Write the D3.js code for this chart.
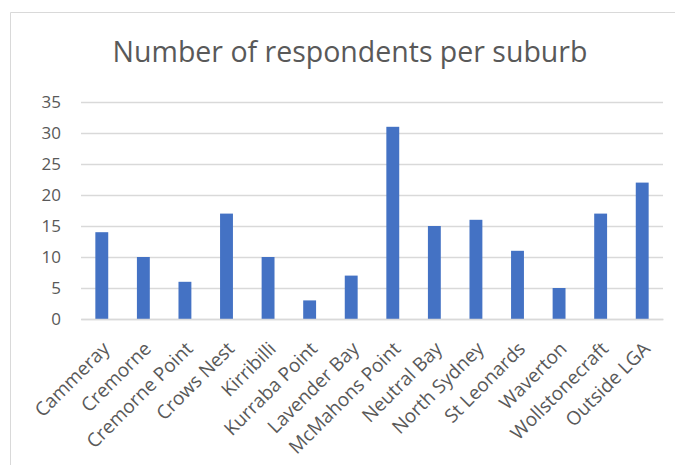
<!DOCTYPE html>
<html>
<head>
<meta charset="utf-8">
<script src="https://cdn.jsdelivr.net/npm/d3@7"></script>
<style>
  html, body { margin: 0; padding: 0; background: #fff; }
  svg { display: block; font-family: "Open Sans", "Noto Sans", sans-serif; }
</style>
</head>
<body>
<svg id="chart" width="675" height="465"></svg>
<script>
// Survey responses by suburb
const suburbs = ["Cammeray", "Cremorne", "Cremorne Point", "Crows Nest", "Kirribilli",
  "Kurraba Point", "Lavender Bay", "McMahons Point", "Neutral Bay", "North Sydney",
  "St Leonards", "Waverton", "Wollstonecraft", "Outside LGA"];
const respondents = [14, 10, 6, 17, 10, 3, 7, 31, 15, 16, 11, 5, 17, 22];
const yTicks = [0, 5, 10, 15, 20, 25, 30, 35];
const chartTitle = "Number of respondents per suburb";

const svg = d3.select("#chart");
const textColor = "#595959";

// chart frame (top and left edges visible)
svg.append("path")
  .attr("d", "M10.5,465 V12.5 H675")
  .attr("fill", "none")
  .attr("stroke", "#d9d9d9")
  .attr("stroke-width", 1);

const plot = { left: 81, right: 663, top: 102, bottom: 319 };

const x = d3.scaleBand()
  .domain(suburbs)
  .range([plot.left, plot.right])
  .paddingInner(0.69)
  .paddingOuter(0.345);

const y = d3.scaleLinear()
  .domain([0, 35])
  .range([plot.bottom, plot.top]);

// gridlines + y labels
const yAxis = d3.axisLeft(y)
  .tickValues(yTicks)
  .tickSize(-(plot.right - plot.left))
  .tickPadding(20);

const gy = svg.append("g")
  .attr("transform", `translate(${plot.left},0)`)
  .call(yAxis);
gy.select(".domain").remove();
gy.selectAll(".tick line")
  .attr("stroke", "#d9d9d9")
  .attr("stroke-width", 1.3);
gy.selectAll(".tick text")
  .attr("fill", textColor)
  .style("font-size", "17px")
  .style("font-family", "'Open Sans', sans-serif");

// bars
svg.append("g")
  .selectAll("rect")
  .data(suburbs.map((s, i) => ({ s, v: respondents[i] })))
  .join("rect")
  .attr("x", d => x(d.s))
  .attr("y", d => y(d.v))
  .attr("width", x.bandwidth())
  .attr("height", d => y(0) - y(d.v))
  .attr("fill", "#4472c4");

// category axis
const xAxis = d3.axisBottom(x).tickSize(0).tickPadding(0);
const gx = svg.append("g")
  .attr("transform", `translate(0,${plot.bottom})`)
  .call(xAxis);
gx.select(".domain")
  .attr("stroke", "#d9d9d9")
  .attr("stroke-width", 1.3);
gx.selectAll(".tick text")
  .attr("fill", textColor)
  .style("font-size", "19px")
  .style("font-family", "'Open Sans', sans-serif")
  .attr("text-anchor", "end")
  .attr("dy", "0")
  .attr("transform", "translate(9,31) rotate(-45)");

// title
svg.append("text")
  .attr("x", 350)
  .attr("y", 62)
  .attr("text-anchor", "middle")
  .attr("fill", textColor)
  .style("font-size", "28.5px")
  .text(chartTitle);
</script>
</body>
</html>
